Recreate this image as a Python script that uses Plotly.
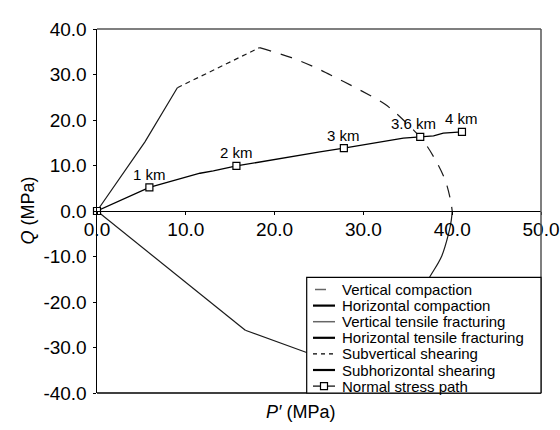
import plotly.graph_objects as go

# ---------------- data ----------------
vt_P = [0.0, 5.4, 9.05]                      # Vertical tensile fracturing
vt_Q = [0.0, 15.2, 27.1]
svs_P = [9.05, 18.3]                         # Subvertical shearing
svs_Q = [27.1, 35.9]
vc_P = [18.3, 21.9, 24.4, 27.0, 29.6, 32.4, 34.5, 36.7, 38.0, 39.2, 39.8, 40.0]   # Vertical compaction
vc_Q = [35.9, 33.7, 31.7, 29.2, 26.6, 23.5, 20.0, 15.5, 11.6, 6.8, 2.5, 0.0]
hc_P = [40.0, 39.9, 39.6, 38.8, 37.5, 35.5, 33.0]                                 # Horizontal compaction
hc_Q = [0.0, -2.0, -4.9, -10.0, -14.4, -21.0, -28.0]
ht_P = [0.0, 16.7]                           # Horizontal tensile fracturing
ht_Q = [0.0, -26.2]
shs_P = [16.7, 23.6, 29.0, 33.0]             # Subhorizontal shearing
shs_Q = [-26.2, -31.1, -33.0, -28.0]
nsp_P = [0.0, 5.9, 11.6, 13.1, 15.7, 20.6, 25.1, 27.8, 34.5, 36.4, 37.9, 39.0, 40.3, 41.1]  # Normal stress path
nsp_Q = [0.0, 5.2, 8.3, 8.8, 9.9, 11.6, 13.0, 13.8, 16.0, 16.3, 16.5, 17.1, 17.2, 17.4]
depth_P = [0.0, 5.9, 15.7, 27.8, 36.4, 41.1]
depth_Q = [0.0, 5.2, 9.9, 13.8, 16.3, 17.4]
depth_labels = ["", "1 km", "2 km", "3 km", "3.6 km", "4 km"]

x_ticks = [0, 10, 20, 30, 40, 50]
x_ticktext = ["0.0", "10.0", "20.0", "30.0", "40.0", "50.0"]
y_ticks = [-40, -30, -20, -10, 0, 10, 20, 30, 40]
y_ticktext = ["-40.0", "-30.0", "-20.0", "-10.0", "0.0", "10.0", "20.0", "30.0", "40.0"]
legend_labels = ["Vertical compaction", "Horizontal compaction", "Vertical tensile fracturing",
                 "Horizontal tensile fracturing", "Subvertical shearing", "Subhorizontal shearing",
                 "Normal stress path"]

# label style offsets (pixels)
label_xshift = [0, 0, 0, 0, -7, 0]

FONT = "Liberation Sans, Arial, sans-serif"
W, H = 560, 430
ML, MR, MT, MB = 97, 19, 29, 37
PW, PH = W - ML - MR, H - MT - MB


def px_x(px):
    return (px - ML) / PW


def px_y(py):
    return (H - MB - py) / PH


fig = go.Figure()
line_dark = "#1a1a1a"

fig.add_trace(go.Scatter(x=vt_P, y=vt_Q, mode="lines", line=dict(color=line_dark, width=1.2)))
fig.add_trace(go.Scatter(x=svs_P, y=svs_Q, mode="lines", line=dict(color=line_dark, width=1.2, dash="5px,4px")))
fig.add_trace(go.Scatter(x=vc_P, y=vc_Q, mode="lines", line=dict(color=line_dark, width=1.2, dash="12px,10px"),
                         line_shape="spline"))
fig.add_trace(go.Scatter(x=hc_P, y=hc_Q, mode="lines", line=dict(color=line_dark, width=1.2), line_shape="spline"))
fig.add_trace(go.Scatter(x=ht_P, y=ht_Q, mode="lines", line=dict(color=line_dark, width=1.2)))
fig.add_trace(go.Scatter(x=shs_P, y=shs_Q, mode="lines", line=dict(color=line_dark, width=1.2)))
fig.add_trace(go.Scatter(x=nsp_P, y=nsp_Q, mode="lines", line=dict(color="black", width=1.3)))
fig.add_trace(go.Scatter(x=depth_P, y=depth_Q, mode="markers",
                         marker=dict(symbol="square", size=7, color="white", line=dict(color="black", width=1.2)),
                         cliponaxis=False))

annotations = []
for p, q, lbl, xs in zip(depth_P, depth_Q, depth_labels, label_xshift):
    if lbl:
        annotations.append(dict(x=p, y=q, xref="x", yref="y", text=lbl, showarrow=False,
                                xanchor="center", yanchor="middle", yshift=13, xshift=xs,
                                font=dict(family=FONT, size=15, color="black")))

shapes = []
# plot frame
shapes.append(dict(type="line", xref="paper", yref="paper", x0=0, x1=1, y0=1, y1=1, line=dict(color="#555", width=1.5)))
shapes.append(dict(type="line", xref="paper", yref="paper", x0=1, x1=1, y0=0, y1=1, line=dict(color="#555", width=1.5)))
shapes.append(dict(type="line", xref="paper", yref="paper", x0=0, x1=1, y0=0, y1=0, line=dict(color="black", width=1.5)))

# manual legend
shapes.append(dict(type="rect", xref="paper", yref="paper", x0=px_x(306.7), x1=1, y0=0, y1=px_y(277.3),
                   line=dict(color="black", width=1.2), fillcolor="white", layer="above"))
row_y = [289.5 + 16.1 * i for i in range(len(legend_labels))]
styles = [
    dict(x0=315, x1=326, color="#666", width=1.5, dash="solid"),
    dict(x0=313, x1=335, color="black", width=2.2, dash="solid"),
    dict(x0=313, x1=335, color="#666", width=1.5, dash="solid"),
    dict(x0=313, x1=335, color="black", width=2.2, dash="solid"),
    dict(x0=313, x1=337, color="black", width=1.2, dash="4px,4px"),
    dict(x0=313, x1=335, color="black", width=2.2, dash="solid"),
    dict(x0=313, x1=335, color="black", width=1.2, dash="solid"),
]
for lbl, ry, st in zip(legend_labels, row_y, styles):
    shapes.append(dict(type="line", xref="paper", yref="paper", x0=px_x(st["x0"]), x1=px_x(st["x1"]),
                       y0=px_y(ry), y1=px_y(ry), layer="above",
                       line=dict(color=st["color"], width=st["width"], dash=st["dash"])))
    annotations.append(dict(x=px_x(340), y=px_y(ry), xref="paper", yref="paper", text=lbl, showarrow=False,
                            xanchor="left", yanchor="middle", font=dict(family=FONT, size=15, color="black")))
# square marker in the "Normal stress path" sample
ry = row_y[-1]
shapes.append(dict(type="rect", xref="paper", yref="paper", x0=px_x(320.5), x1=px_x(327.5),
                   y0=px_y(ry + 3.5), y1=px_y(ry - 3.5), layer="above",
                   line=dict(color="black", width=1.2), fillcolor="white"))

# axis titles
annotations.append(dict(x=px_x(300), y=px_y(412), xref="paper", yref="paper", text="<i>P′</i> (MPa)",
                        showarrow=False, xanchor="center", yanchor="middle",
                        font=dict(family=FONT, size=18, color="black")))
annotations.append(dict(x=px_x(27.5), y=0.5, xref="paper", yref="paper", text="<i>Q</i> (MPa)",
                        showarrow=False, textangle=-90, xanchor="center", yanchor="middle",
                        font=dict(family=FONT, size=18, color="black")))

fig.update_layout(
    width=W, height=H,
    margin=dict(l=ML, r=MR, t=MT, b=MB, pad=0, autoexpand=False),
    paper_bgcolor="white", plot_bgcolor="white",
    showlegend=False,
    font=dict(family=FONT, size=18, color="black"),
    shapes=shapes, annotations=annotations,
    xaxis=dict(range=[0, 50], tickvals=x_ticks, ticktext=x_ticktext, anchor="free", position=0.5,
               showline=True, linecolor="black", linewidth=1.3, ticks="outside", ticklen=3,
               tickcolor="black", showgrid=False, zeroline=False, ticklabelstandoff=-2,
               automargin=False, tickfont=dict(family=FONT, size=19, color="black")),
    yaxis=dict(range=[-40, 40], tickvals=y_ticks, ticktext=y_ticktext, domain=[0, 1],
               showline=True, linecolor="black", linewidth=1.5, ticks="outside", ticklen=3,
               tickcolor="black", showgrid=False, zeroline=False, ticklabelstandoff=2,
               automargin=False, tickfont=dict(family=FONT, size=19, color="black")),
)

fig.write_html("out.html", config={"displayModeBar": False, "staticPlot": True},
               post_script="document.body.style.margin='0px';document.body.style.overflow='hidden';")
